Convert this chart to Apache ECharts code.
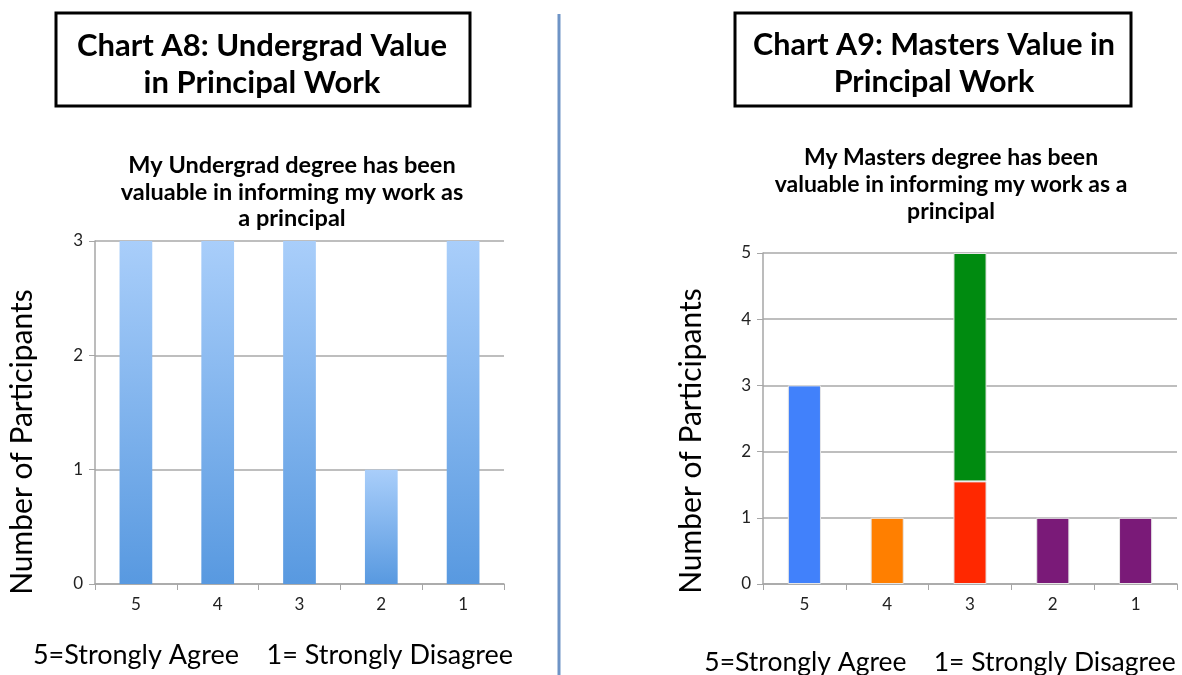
<!DOCTYPE html>
<html>
<head>
<meta charset="utf-8">
<script src="https://cdn.jsdelivr.net/npm/echarts@6/dist/echarts.min.js"></script>
<style>html,body{margin:0;padding:0;background:#fff}#c{width:1182px;height:675px}</style>
</head>
<body>
<div id="c"></div>
<script>
const categories = ['5', '4', '3', '2', '1'];
const undergradValues = [3, 3, 3, 1, 3];
const mastersBase = [3, 1, 1.55, 1, 1];
const mastersTop = ['-', '-', 3.45, '-', '-'];
const mastersBaseColors = ['#4181fb', '#ff7f00', '#ff2800', '#7a1a78', '#7a1a78'];
const mastersTopColor = '#008b10';

const FONT = 'Lato, "Open Sans", sans-serif';
const chart = echarts.init(document.getElementById('c'));

function yAxisCfg(gridIndex, max) {
  return {
    type: 'value', gridIndex, min: 0, max, interval: 1,
    axisLine: { show: true, lineStyle: { color: '#a6a6a6', width: 1.5 } },
    axisTick: { show: true, length: 6, lineStyle: { color: '#a6a6a6' } },
    axisLabel: { fontFamily: FONT, fontSize: 17, color: '#222', margin: 12 },
    splitLine: { lineStyle: { color: '#a8a8a8', width: 1.5 } }
  };
}
function xAxisCfg(gridIndex) {
  return {
    type: 'category', gridIndex, data: categories,
    axisLine: { lineStyle: { color: '#a6a6a6', width: 1.5 } },
    axisTick: { show: true, length: 6, lineStyle: { color: '#a6a6a6' } },
    axisLabel: { fontFamily: FONT, fontSize: 17, color: '#222', margin: 12 }
  };
}

const text = (x, y, t, size, weight, lh, extra) => Object.assign({
  type: 'text', x, y,
  style: { text: t, fontFamily: FONT, fontSize: size, fontWeight: weight, fill: '#000', textAlign: 'center', textVerticalAlign: 'middle', lineHeight: lh }
}, extra || {});

chart.setOption({
  animation: false,
  grid: [
    { left: 95, right: 678, top: 241, bottom: 91 },
    { left: 763, right: 5, top: 253, bottom: 91 }
  ],
  xAxis: [xAxisCfg(0), xAxisCfg(1)],
  yAxis: [yAxisCfg(0, 3), yAxisCfg(1, 5)],
  series: [
    {
      type: 'bar', xAxisIndex: 0, yAxisIndex: 0, barWidth: '40%',
      data: undergradValues,
      itemStyle: {
        color: new echarts.graphic.LinearGradient(0, 0, 0, 1, [
          { offset: 0, color: '#a9cefa' }, { offset: 1, color: '#5899e0' }
        ])
      }
    },
    {
      type: 'bar', xAxisIndex: 1, yAxisIndex: 1, barWidth: '40%', stack: 'm',
      data: mastersBase.map((v, i) => ({ value: v, itemStyle: { color: mastersBaseColors[i] } })),
      itemStyle: { borderColor: '#e6e6e6', borderWidth: 1 }
    },
    {
      type: 'bar', xAxisIndex: 1, yAxisIndex: 1, barWidth: '37%', stack: 'm',
      data: mastersTop,
      itemStyle: { color: mastersTopColor, borderColor: '#e6e6e6', borderWidth: 1 }
    }
  ],
  graphic: [
    { type: 'rect', shape: { x: 56, y: 13, width: 414, height: 93 }, style: { fill: '#fff', stroke: '#000', lineWidth: 3 } },
    { type: 'rect', shape: { x: 735, y: 13, width: 396, height: 93 }, style: { fill: '#fff', stroke: '#000', lineWidth: 3 } },
    text(262, 64, 'Chart A8: Undergrad Value\nin Principal Work', 31, 'bold', 37),
    text(934, 64, 'Chart A9: Masters Value in\nPrincipal Work', 30.5, 'bold', 37),
    text(292, 192, 'My Undergrad degree has been\nvaluable in informing my work as\na principal', 23.5, 'bold', 26.5),
    text(951, 185, 'My Masters degree has been\nvaluable in informing my work as a\nprincipal', 23, 'bold', 27),
    text(273, 655, '5=Strongly Agree    1= Strongly Disagree', 27, 'normal', 30),
    text(940, 662, '5=Strongly Agree    1= Strongly Disagree', 26.5, 'normal', 30),
    text(22, 442, 'Number of Participants', 30, 'normal', 32, { rotation: Math.PI / 2 }),
    text(691, 441, 'Number of Participants', 30, 'normal', 32, { rotation: Math.PI / 2 }),
    { type: 'line', shape: { x1: 559, y1: 14, x2: 559, y2: 675 }, style: { stroke: '#6e94c6', lineWidth: 3 } }
  ]
});
</script>
</body>
</html>
